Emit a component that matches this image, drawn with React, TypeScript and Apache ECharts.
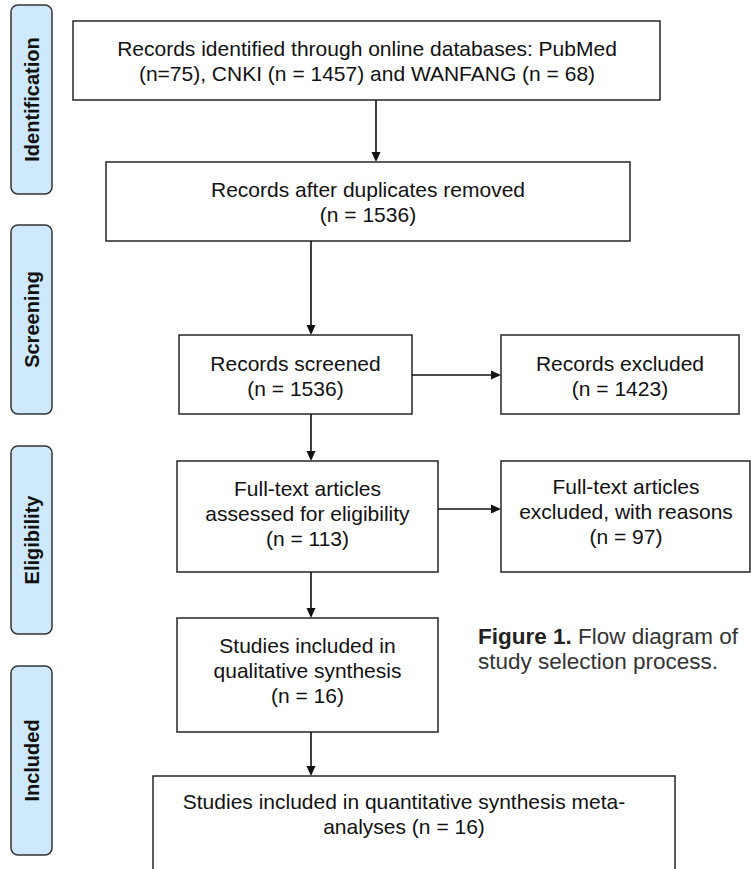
import React, { useEffect, useRef } from "react";
import * as echarts from "echarts";

// ---- Data (text & counts) ----
const stageLabels = ["Identification", "Screening", "Eligibility", "Included"];
const dbNames = ["PubMed", "CNKI", "WANFANG"];
const dbCounts = [75, 1457, 68];
const afterDuplicates = 1536;
const recordsScreened = 1536;
const recordsExcluded = 1423;
const fullTextAssessed = 113;
const fullTextExcluded = 97;
const qualitativeIncluded = 16;
const quantitativeIncluded = 16;
const captionBold = "Figure 1.";
const captionLines = [" Flow diagram of", "study selection process."];

const boxLines: string[][] = [
  [
    `Records identified through online databases: ${dbNames[0]}`,
    `(n=${dbCounts[0]}), ${dbNames[1]} (n = ${dbCounts[1]}) and ${dbNames[2]} (n = ${dbCounts[2]})`,
  ],
  ["Records after duplicates removed", `(n = ${afterDuplicates})`],
  ["Records screened", `(n = ${recordsScreened})`],
  ["Records excluded", `(n = ${recordsExcluded})`],
  ["Full-text articles", "assessed for eligibility", `(n = ${fullTextAssessed})`],
  ["Full-text articles", "excluded, with reasons", `(n = ${fullTextExcluded})`],
  ["Studies included in", "qualitative synthesis", `(n = ${qualitativeIncluded})`],
  ["Studies included in quantitative synthesis meta-", `analyses (n = ${quantitativeIncluded})`],
];

// ---- Layout ----
// [x1, y1, x2, y2, textCenterX, textCenterY]
const boxGeom: number[][] = [
  [73, 21, 660, 100, 367, 61],
  [106, 162, 630, 241, 368, 201.5],
  [179, 335, 412, 414, 295.5, 375.5],
  [501, 335, 739, 414, 620, 375.5],
  [177, 461, 438, 572, 307.5, 513],
  [501, 461, 750, 572, 626, 511.5],
  [177, 618, 438, 732, 307.5, 670.5],
  [153, 776, 675, 900, 404, 814],
];
// pills: [x1, y1, x2, y2]
const pillGeom: number[][] = [
  [11, 5, 52, 194],
  [11, 225, 52, 414],
  [11, 446, 52, 634],
  [11, 666, 52, 855],
];
// arrows: [x1, y1, x2, y2]
const arrows: number[][] = [
  [376, 100, 376, 162],
  [311, 241, 311, 335],
  [311, 414, 311, 461],
  [311, 572, 311, 618],
  [311, 732, 311, 776],
  [412, 375, 501, 375],
  [438, 509, 501, 509],
];

const FONT = "'Liberation Sans', Arial, Helvetica, sans-serif";
const LINE_H = 25;
const STROKE = "#262626";

function buildGraphics() {
  const els: any[] = [];
  // pills
  pillGeom.forEach((p, i) => {
    els.push({
      type: "rect",
      shape: { x: p[0], y: p[1], width: p[2] - p[0], height: p[3] - p[1], r: 7 },
      style: { fill: "#cfe9fc", stroke: "#333333", lineWidth: 1.5 },
    });
    els.push({
      type: "text",
      x: (p[0] + p[2]) / 2,
      y: (p[1] + p[3]) / 2,
      rotation: Math.PI / 2,
      style: {
        text: stageLabels[i],
        x: 0,
        y: 0,
        align: "center",
        verticalAlign: "middle",
        font: `bold 20px ${FONT}`,
        fill: "#111111",
      },
    });
  });
  // boxes
  boxGeom.forEach((b, i) => {
    els.push({
      type: "rect",
      shape: { x: b[0], y: b[1], width: b[2] - b[0], height: b[3] - b[1] },
      style: { fill: "#ffffff", stroke: STROKE, lineWidth: 1.5 },
    });
    const lines = boxLines[i];
    const startY = b[5] - ((lines.length - 1) * LINE_H) / 2;
    lines.forEach((t, j) => {
      els.push({
        type: "text",
        style: {
          text: t,
          x: b[4],
          y: startY + j * LINE_H,
          align: "center",
          verticalAlign: "middle",
          font: `21px ${FONT}`,
          fill: "#111111",
        },
      });
    });
  });
  // arrows
  arrows.forEach((a) => {
    const vertical = a[0] === a[2];
    const L = 10;
    const W = 4.5;
    if (vertical) {
      els.push({
        type: "line",
        shape: { x1: a[0], y1: a[1], x2: a[2], y2: a[3] - 8 },
        style: { stroke: "#111111", lineWidth: 1.6 },
      });
      els.push({
        type: "polygon",
        shape: { points: [[a[2] - W, a[3] - L], [a[2] + W, a[3] - L], [a[2], a[3]]] },
        style: { fill: "#111111" },
      });
    } else {
      els.push({
        type: "line",
        shape: { x1: a[0], y1: a[1], x2: a[2] - 8, y2: a[3] },
        style: { stroke: "#111111", lineWidth: 1.6 },
      });
      els.push({
        type: "polygon",
        shape: { points: [[a[2] - L, a[3] - W], [a[2] - L, a[3] + W], [a[2], a[3]]] },
        style: { fill: "#111111" },
      });
    }
  });
  // caption
  els.push({
    type: "text",
    style: {
      text: `{b|${captionBold}}{r|${captionLines[0]}}\n{r|${captionLines[1]}}`,
      x: 478,
      y: 624,
      align: "left",
      verticalAlign: "top",
      rich: {
        b: { font: `bold 22.5px ${FONT}`, fill: "#222222", lineHeight: 25 },
        r: { font: `22.5px ${FONT}`, fill: "#333333", lineHeight: 25 },
      },
    },
  });
  return els;
}

export default function App() {
  const ref = useRef<HTMLDivElement>(null);
  useEffect(() => {
    document.body.style.margin = "0";
    if (!ref.current) return;
    const chart = echarts.init(ref.current, null, { renderer: "svg" });
    chart.setOption({
      animation: false,
      backgroundColor: "#ffffff",
      graphic: { elements: buildGraphics() },
    });
    return () => chart.dispose();
  }, []);
  return <div ref={ref} style={{ width: 751, height: 869 }} />;
}
